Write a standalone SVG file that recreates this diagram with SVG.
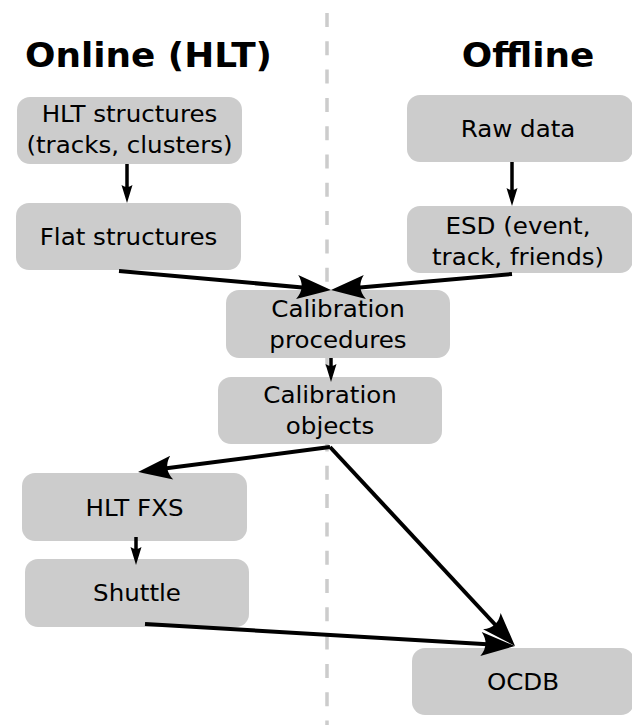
<svg xmlns="http://www.w3.org/2000/svg" width="632" height="725" viewBox="0 0 632 725">
<style>
.box{fill:#cccccc;}
.t{font-family:"DejaVu Sans",sans-serif;font-size:23.5px;fill:#000;text-anchor:middle;}
.h{font-family:"DejaVu Sans",sans-serif;font-size:33.5px;font-weight:bold;fill:#000;text-anchor:middle;}
.big{stroke:#000;stroke-width:4;fill:none;marker-end:url(#bigHead);}
.small{stroke:#000;stroke-width:3.5;fill:none;marker-end:url(#smallHead);}
</style>
<defs>
<marker id="bigHead" markerUnits="userSpaceOnUse" orient="auto" refX="0" refY="0" viewBox="-25 -15 45 30" markerWidth="45" markerHeight="30" overflow="visible">
<path d="M15,0 L-19,-12 Q-10,0 -19,12 Z" fill="#000"/>
</marker>
<marker id="smallHead" markerUnits="userSpaceOnUse" orient="auto" refX="0" refY="0" viewBox="-12 -8 24 16" markerWidth="24" markerHeight="16" overflow="visible">
<path d="M9,0 L-9,-5.5 Q-5,0 -9,5.5 Z" fill="#000"/>
</marker>
</defs>
<line x1="327" y1="13" x2="327" y2="725" stroke="#cccccc" stroke-width="3.5" stroke-dasharray="14 14.3"/>
<text class="h" transform="translate(148.5,66.7) scale(1.07,1)">Online (HLT)</text>
<text class="h" transform="translate(528,66.7) scale(1.07,1)">Offline</text>
<g id="hlt-structures"><rect class="box" x="17" y="97" width="225" height="67" rx="13"/><text class="t" transform="translate(129.5,121.7) scale(1.045,1)">HLT structures</text><text class="t" transform="translate(129.5,153) scale(1.045,1)">(tracks, clusters)</text></g>
<g id="raw-data"><rect class="box" x="407" y="95" width="226" height="67" rx="13"/><text class="t" transform="translate(518,137) scale(1.045,1)">Raw data</text></g>
<g id="flat-structures"><rect class="box" x="16" y="203" width="225" height="67" rx="13"/><text class="t" transform="translate(128.5,245) scale(1.045,1)">Flat structures</text></g>
<g id="esd"><rect class="box" x="407" y="206" width="226" height="67" rx="13"/><text class="t" transform="translate(518,234) scale(1.045,1)">ESD (event,</text><text class="t" transform="translate(518,265) scale(1.045,1)">track, friends)</text></g>
<g id="calibration-procedures"><rect class="box" x="226" y="290" width="224" height="68" rx="13"/><text class="t" transform="translate(338,317) scale(1.045,1)">Calibration</text><text class="t" transform="translate(338,348) scale(1.045,1)">procedures</text></g>
<g id="calibration-objects"><rect class="box" x="218" y="377" width="224" height="67" rx="13"/><text class="t" transform="translate(330,403) scale(1.045,1)">Calibration</text><text class="t" transform="translate(330,434) scale(1.045,1)">objects</text></g>
<g id="hlt-fxs"><rect class="box" x="22" y="473" width="225" height="68" rx="13"/><text class="t" transform="translate(134.5,516) scale(1.045,1)">HLT FXS</text></g>
<g id="shuttle"><rect class="box" x="25" y="559" width="224" height="68" rx="13"/><text class="t" transform="translate(137,601) scale(1.045,1)">Shuttle</text></g>
<g id="ocdb"><rect class="box" x="412" y="648" width="222" height="67" rx="13"/><text class="t" transform="translate(523,690) scale(1.045,1)">OCDB</text></g>
<g id="connectors">
<line class="small" x1="127" y1="164" x2="127" y2="194"/>
<line class="small" x1="512" y1="162" x2="512" y2="197"/>
<line class="big" x1="119" y1="271" x2="316.1" y2="288.7"/>
<line class="big" x1="512" y1="274" x2="345.9" y2="288.7"/>
<line class="small" x1="331" y1="358" x2="331" y2="373"/>
<line class="big" x1="330" y1="447" x2="152.9" y2="470.1"/>
<line class="big" x1="330" y1="447" x2="504.8" y2="635"/>
<line class="small" x1="136" y1="537" x2="136" y2="556"/>
<line class="big" x1="145" y1="624" x2="500" y2="645.1"/>
</g>
</svg>
